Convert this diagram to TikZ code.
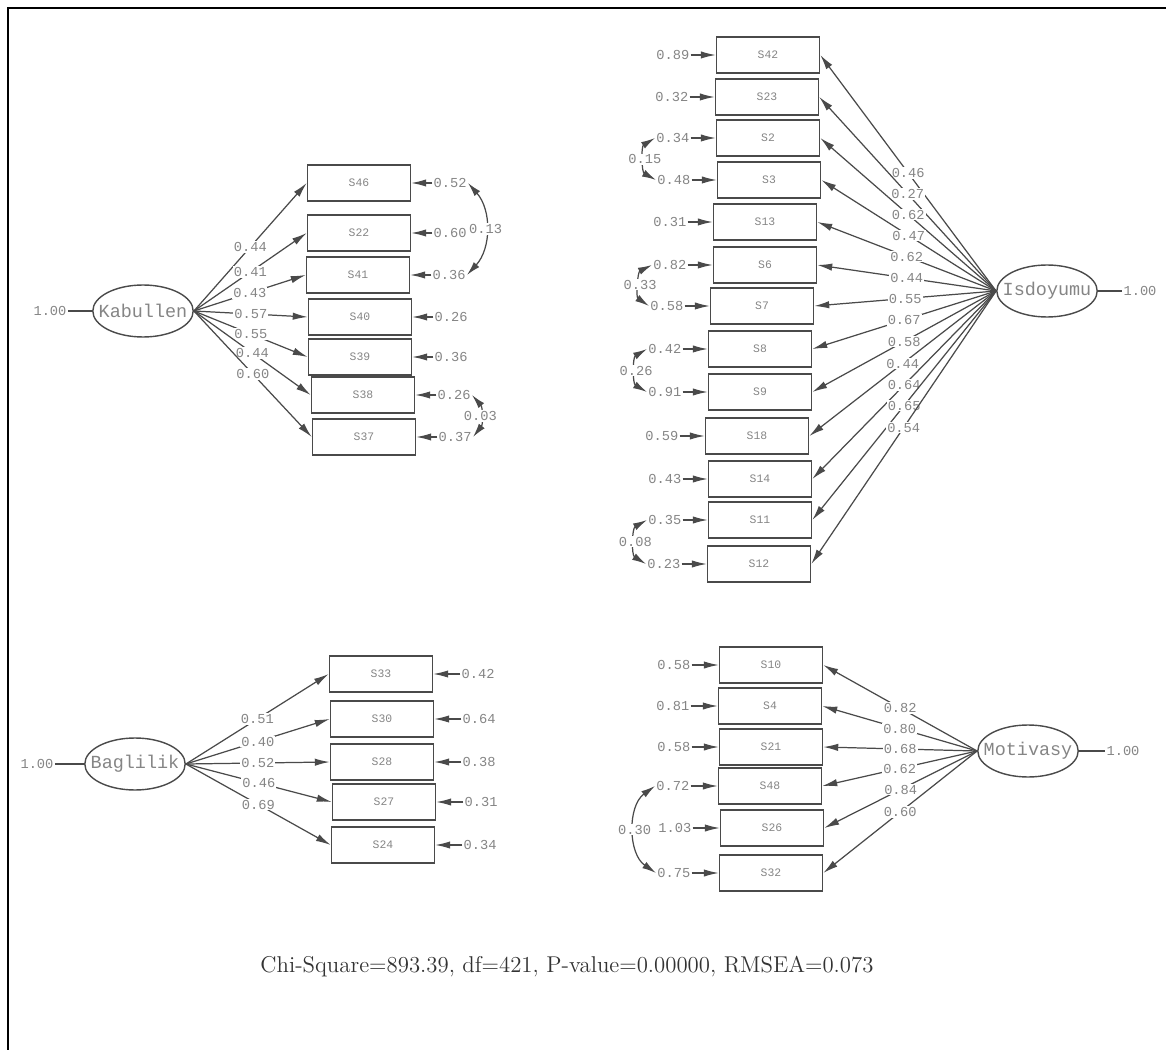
\documentclass[tikz,border=0pt]{standalone}
\usepackage{fontspec}
\setmonofont{Liberation Mono}
\usetikzlibrary{arrows.meta,positioning,shapes.geometric}
\definecolor{lisline}{HTML}{4A4A4A}
\definecolor{listext}{HTML}{858585}

\begin{document}
\begin{tikzpicture}[x=0.02cm,y=-0.02cm,
  obs/.style={draw=lisline,line width=0.9pt,minimum width=2.06cm,minimum height=0.72cm,inner sep=0pt,
    font=\ttfamily\fontsize{6.5}{7}\selectfont,text=listext},
  lat/.style={ellipse,draw=lisline,line width=0.8pt,minimum height=1.04cm,inner xsep=-5pt,inner ysep=0pt,
    font=\ttfamily\fontsize{10.5}{12}\selectfont,text=listext},
  num/.style={inner sep=0.6pt,font=\ttfamily\fontsize{7.8}{9}\selectfont,text=listext},
  lab/.style={num,fill=white},
  pth/.style={draw=lisline,line width=0.7pt,-{Latex[length=8.5pt,width=4.2pt]}},
  cov/.style={draw=lisline,line width=0.7pt,{Latex[length=8pt,width=4.2pt]}-{Latex[length=8pt,width=4.2pt]}},
  var/.style={draw=lisline,line width=0.7pt}]
\useasboundingbox (0,0) rectangle (1166,1050);

% frame
\draw[line width=1.5pt] (8,1050) -- (8,8) -- (1166,8);

% Kabullen
\node[lat] (kab) at (143,311) {Kabullen};
\node[num] (kv) at (50,311) {1.00};
\draw[var] (kv) -- (kab);
\foreach \n/\x/\y/\l/\e in {46/359/183/0.44/0.52, 22/359/233/0.41/0.60, 41/358/275/0.43/0.36,
    40/360/317/0.57/0.26, 39/360/357/0.55/0.36, 38/363/395/0.44/0.26, 37/364/437/0.60/0.37}{
  \node[obs] (s\n) at (\x,\y) {S\n};
  \node[num,right=0.42cm of s\n] (e\n) {\e};
  \draw[pth] (e\n) -- (s\n);
  \draw[pth] (kab.east) -- node[lab] {\l} (s\n.west);
}
\draw[cov] (e46.east) to[bend left=42] node[lab] {0.13} (e41.east);
\draw[cov] (e38.east) to[bend left=40] node[lab] {0.03} (e37.east);

% Isdoyumu
\node[lat] (isd) at (1047,291) {Isdoyumu};
\node[num] (iv) at (1140,291) {1.00};
\draw[var] (isd) -- (iv);
\foreach \n/\x/\y/\l/\e in {42/768/55/0.46/0.89, 23/767/97/0.27/0.32, 2/768/138/0.62/0.34,
    3/769/180/0.47/0.48, 13/765/222/0.62/0.31, 6/765/265/0.44/0.82, 7/762/306/0.55/0.58,
    8/760/349/0.67/0.42, 9/760/392/0.58/0.91, 18/757/436/0.44/0.59, 14/760/479/0.64/0.43,
    11/760/520/0.65/0.35, 12/759/564/0.54/0.23}{
  \node[obs] (s\n) at (\x,\y) {S\n};
  \node[num,left=0.5cm of s\n] (e\n) {\e};
  \draw[pth] (e\n) -- (s\n);
  \draw[pth] (isd.west) -- node[lab] {\l} (s\n.east);
}
\draw[cov] (e2.west) to[bend right=60] node[lab] {0.15} (e3.west);
\draw[cov] (e6.west) to[bend right=60] node[lab] {0.33} (e7.west);
\draw[cov] (e8.west) to[bend right=60] node[lab] {0.26} (e9.west);
\draw[cov] (e11.west) to[bend right=60] node[lab] {0.08} (e12.west);

% Baglilik
\node[lat] (bag) at (135,764) {Baglilik};
\node[num] (bv) at (37,764) {1.00};
\draw[var] (bv) -- (bag);
\foreach \n/\x/\y/\l/\e in {33/381/674/0.51/0.42, 30/382/719/0.40/0.64, 28/382/762/0.52/0.38,
    27/384/802/0.46/0.31, 24/383/845/0.69/0.34}{
  \node[obs] (s\n) at (\x,\y) {S\n};
  \node[num,right=0.54cm of s\n] (e\n) {\e};
  \draw[pth] (e\n) -- (s\n);
  \draw[pth] (bag.east) -- node[lab] {\l} (s\n.west);
}

% Motivasy
\node[lat] (mot) at (1028,751) {Motivasy};
\node[num] (mv) at (1123,751) {1.00};
\draw[var] (mot) -- (mv);
\foreach \n/\x/\y/\l/\e in {10/771/665/0.82/0.58, 4/770/706/0.80/0.81, 21/771/747/0.68/0.58,
    48/770/786/0.62/0.72, 26/772/828/0.84/1.03, 32/771/873/0.60/0.75}{
  \node[obs] (s\n) at (\x,\y) {S\n};
  \node[num,left=0.54cm of s\n] (e\n) {\e};
  \draw[pth] (e\n) -- (s\n);
  \draw[pth] (mot.west) -- node[lab] {\l} (s\n.east);
}
\draw[cov] (e48.west) to[bend right=55] node[lab] {0.30} (e32.west);

% fit statistics
\node[text=black!80,font=\fontsize{13}{15}\selectfont] (fit) at (567,967)
  {Chi-Square=893.39, df=421, P-value=0.00000, RMSEA=0.073};
\end{tikzpicture}
\end{document}
